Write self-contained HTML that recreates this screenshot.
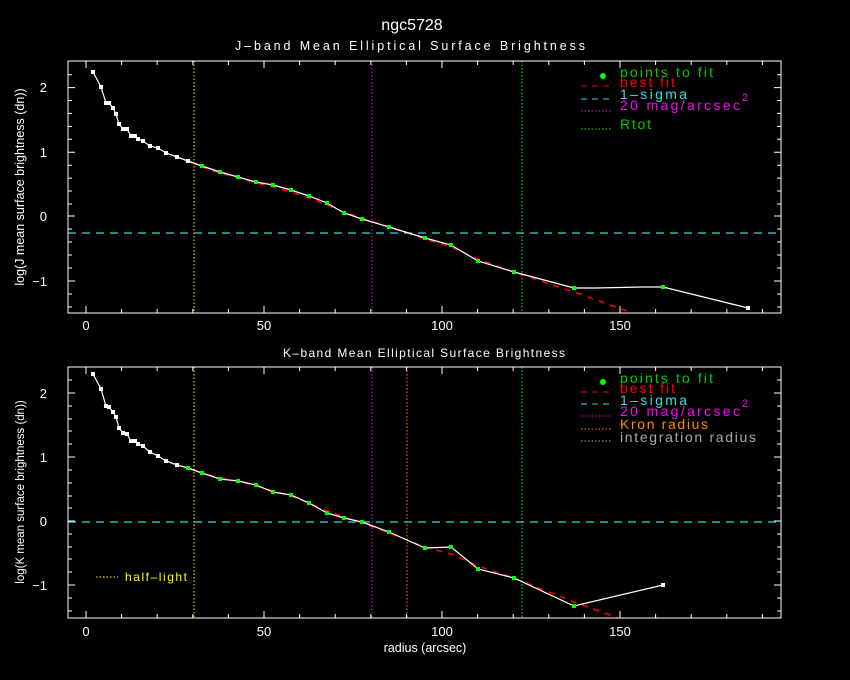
<!DOCTYPE html>
<html><head><meta charset="utf-8"><style>
html,body{margin:0;padding:0;background:#000;}
svg{display:block;font-family:"Liberation Sans",sans-serif;}
</style></head><body>
<svg width="850" height="680" viewBox="0 0 850 680" xmlns="http://www.w3.org/2000/svg">
<rect width="850" height="680" fill="#000"/>
<text x="412" y="30" fill="#fff" font-size="16" text-anchor="middle">ngc5728</text>
<text x="410" y="50" fill="#fff" font-size="12.5" text-anchor="middle" textLength="350">J–band Mean Elliptical Surface Brightness</text>
<text x="424" y="357" fill="#fff" font-size="12" text-anchor="middle" textLength="282">K–band Mean Elliptical Surface Brightness</text>
<text x="425" y="652" fill="#fff" font-size="12.5" text-anchor="middle">radius (arcsec)</text>
<text transform="translate(24,187) rotate(-90)" fill="#fff" font-size="12.5" text-anchor="middle">log(J mean surface brightness (dn))</text>
<text transform="translate(24,492) rotate(-90)" fill="#fff" font-size="11.5" text-anchor="middle">log(K mean surface brightness (dn))</text>

<g id="top">
<line x1="194" y1="61" x2="194" y2="313" stroke="#ff0" stroke-dasharray="1.5,2"/>
<line x1="372" y1="61" x2="372" y2="313" stroke="#f0f" stroke-dasharray="1.5,2"/>
<line x1="522" y1="61" x2="522" y2="313" stroke="#0f0" stroke-dasharray="1.5,2"/>
<line x1="68" y1="233" x2="781" y2="233" stroke="#3dd" stroke-dasharray="8,6" stroke-width="1.2"/>
<polyline fill="none" stroke="#f00" stroke-dasharray="6,6" stroke-width="1.5" points="190,162 202,167 220,173 238,178 256,183 273,187 291,192 309,198 327,205 344,212 362,218 389,227 425,239 451,247 478,259 514,272 574,292 627,311"/>
<polyline fill="none" stroke="#fff" stroke-width="1.2" points="93,72 101,87 106,103 109,103 113,108 116,114 119,124 123,129 127,129 131,136 135,136 138,139 143,141 150,146 158,148 166,153 177,157 188,161 202,166 220,172 238,177 256,182 273,185 291,190 309,196 327,203 344,213 362,219 389,227 425,238 451,245 478,261 514,272 574,288 596,288 641,287 663,287 748,308"/>
<g fill="#fff">
<rect x="91" y="70" width="4" height="4"/><rect x="99" y="85" width="4" height="4"/><rect x="104" y="101" width="4" height="4"/><rect x="107" y="101" width="4" height="4"/><rect x="111" y="106" width="4" height="4"/><rect x="114" y="112" width="4" height="4"/><rect x="117" y="122" width="4" height="4"/><rect x="121" y="127" width="4" height="4"/><rect x="125" y="127" width="4" height="4"/><rect x="129" y="134" width="4" height="4"/><rect x="133" y="134" width="4" height="4"/><rect x="136" y="137" width="4" height="4"/><rect x="141" y="139" width="4" height="4"/><rect x="148" y="144" width="4" height="4"/><rect x="156" y="146" width="4" height="4"/><rect x="164" y="151" width="4" height="4"/><rect x="175" y="155" width="4" height="4"/><rect x="186" y="159" width="4" height="4"/><rect x="746" y="306" width="4" height="4"/>
</g>
<g fill="#0f0">
<rect x="200" y="164" width="4" height="4"/><rect x="218" y="170" width="4" height="4"/><rect x="236" y="175" width="4" height="4"/><rect x="254" y="180" width="4" height="4"/><rect x="271" y="183" width="4" height="4"/><rect x="289" y="188" width="4" height="4"/><rect x="307" y="194" width="4" height="4"/><rect x="325" y="201" width="4" height="4"/><rect x="342" y="211" width="4" height="4"/><rect x="360" y="217" width="4" height="4"/><rect x="387" y="225" width="4" height="4"/><rect x="423" y="236" width="4" height="4"/><rect x="449" y="243" width="4" height="4"/><rect x="476" y="259" width="4" height="4"/><rect x="512" y="270" width="4" height="4"/><rect x="572" y="286" width="4" height="4"/><rect x="661" y="285" width="4" height="4"/>
</g>
<circle cx="603" cy="76" r="3" fill="#0f0"/>
<text x="620" y="77" fill="#0c0" font-size="14" textLength="93">points to fit</text>
<line x1="581" y1="86" x2="612" y2="86" stroke="#f00" stroke-dasharray="6,5"/>
<text x="620" y="87" fill="#f00" font-size="14" textLength="55">best fit</text>
<line x1="581" y1="99" x2="612" y2="99" stroke="#3dd" stroke-dasharray="6,5"/>
<text x="620" y="99" fill="#3dd" font-size="14" textLength="67">1–sigma</text>
<line x1="581" y1="111" x2="612" y2="111" stroke="#f0f" stroke-dasharray="1.5,2"/>
<text x="620" y="110" fill="#f0f" font-size="14" textLength="120">20 mag/arcsec</text>
<text x="742" y="101" fill="#f0f" font-size="11">2</text>
<line x1="581" y1="129" x2="612" y2="129" stroke="#0f0" stroke-dasharray="1.5,2"/>
<text x="620" y="129" fill="#0c0" font-size="14" textLength="31">Rtot</text>
</g>

<g id="bottom">
<line x1="194" y1="367" x2="194" y2="618" stroke="#ff0" stroke-dasharray="1.5,2"/>
<line x1="372" y1="367" x2="372" y2="618" stroke="#f0f" stroke-dasharray="1.5,2"/>
<line x1="407" y1="367" x2="407" y2="618" stroke="#f80" stroke-dasharray="1.5,2"/>
<line x1="522" y1="367" x2="522" y2="618" stroke="#0f0" stroke-dasharray="1.5,2"/>
<line x1="68" y1="522" x2="781" y2="522" stroke="#3dd" stroke-dasharray="8,6" stroke-width="1.2"/>
<polyline fill="none" stroke="#f00" stroke-dasharray="6,6" stroke-width="1.5" points="186,468 202,473 220,478 238,481 256,486 273,491 291,496 309,503 327,511 344,517 362,523 389,533 425,547 451,554 478,566 514,578 574,602 618,618"/>
<polyline fill="none" stroke="#fff" stroke-width="1.2" points="93,374 101,389 106,406 109,407 113,412 116,417 119,428 123,433 127,434 131,441 135,441 138,444 143,446 150,452 158,456 166,461 177,465 188,468 202,473 220,479 238,481 256,485 273,492 291,495 309,503 327,513 344,518 362,522 389,532 425,548 451,547 478,569 514,578 574,606 663,585"/>
<g fill="#fff">
<rect x="91" y="372" width="4" height="4"/><rect x="99" y="387" width="4" height="4"/><rect x="104" y="404" width="4" height="4"/><rect x="107" y="405" width="4" height="4"/><rect x="111" y="410" width="4" height="4"/><rect x="114" y="415" width="4" height="4"/><rect x="117" y="426" width="4" height="4"/><rect x="121" y="431" width="4" height="4"/><rect x="125" y="432" width="4" height="4"/><rect x="129" y="439" width="4" height="4"/><rect x="133" y="439" width="4" height="4"/><rect x="136" y="442" width="4" height="4"/><rect x="141" y="444" width="4" height="4"/><rect x="148" y="450" width="4" height="4"/><rect x="156" y="454" width="4" height="4"/><rect x="164" y="459" width="4" height="4"/><rect x="175" y="463" width="4" height="4"/><rect x="661" y="583" width="4" height="4"/>
</g>
<g fill="#0f0">
<rect x="186" y="466" width="4" height="4"/><rect x="200" y="471" width="4" height="4"/><rect x="218" y="477" width="4" height="4"/><rect x="236" y="479" width="4" height="4"/><rect x="254" y="483" width="4" height="4"/><rect x="271" y="490" width="4" height="4"/><rect x="289" y="493" width="4" height="4"/><rect x="307" y="501" width="4" height="4"/><rect x="325" y="511" width="4" height="4"/><rect x="342" y="516" width="4" height="4"/><rect x="360" y="520" width="4" height="4"/><rect x="387" y="530" width="4" height="4"/><rect x="423" y="546" width="4" height="4"/><rect x="449" y="545" width="4" height="4"/><rect x="476" y="567" width="4" height="4"/><rect x="512" y="576" width="4" height="4"/><rect x="572" y="604" width="4" height="4"/>
</g>
<circle cx="603" cy="382" r="3" fill="#0f0"/>
<text x="620" y="383" fill="#0c0" font-size="14" textLength="93">points to fit</text>
<line x1="581" y1="392" x2="612" y2="392" stroke="#f00" stroke-dasharray="6,5"/>
<text x="620" y="393" fill="#f00" font-size="14" textLength="55">best fit</text>
<line x1="581" y1="404" x2="612" y2="404" stroke="#3dd" stroke-dasharray="6,5"/>
<text x="620" y="405" fill="#3dd" font-size="14" textLength="67">1–sigma</text>
<line x1="581" y1="416" x2="612" y2="416" stroke="#f0f" stroke-dasharray="1.5,2"/>
<text x="620" y="416" fill="#f0f" font-size="14" textLength="120">20 mag/arcsec</text>
<text x="742" y="407" fill="#f0f" font-size="11">2</text>
<line x1="581" y1="429" x2="612" y2="429" stroke="#f80" stroke-dasharray="1.5,2"/>
<text x="620" y="429" fill="#f80" font-size="14" textLength="88">Kron radius</text>
<line x1="581" y1="441" x2="612" y2="441" stroke="#aaa" stroke-dasharray="1.5,2"/>
<text x="620" y="442" fill="#aaa" font-size="14" textLength="136">integration radius</text>
<line x1="96" y1="577" x2="118" y2="577" stroke="#ff0" stroke-dasharray="1.5,2"/>
<text x="125" y="581" fill="#ff0" font-size="12" textLength="62">half–light</text>
</g>

<g stroke="#fff" fill="none" stroke-width="1">
<rect x="68" y="61" width="713" height="252"/>
<rect x="68" y="367" width="713" height="251"/>
</g>
<g stroke="#fff" stroke-width="1">
<path d="M86,313v-7M264,313v-7M442,313v-7M620,313v-7M86,61v7M264,61v7M442,61v7M620,61v7
M121.6,313v-4M157.2,313v-4M192.8,313v-4M228.4,313v-4M299.6,313v-4M335.2,313v-4M370.8,313v-4M406.4,313v-4M477.6,313v-4M513.2,313v-4M548.8,313v-4M584.4,313v-4M655.6,313v-4M691.2,313v-4M726.8,313v-4M762.4,313v-4
M121.6,61v4M157.2,61v4M192.8,61v4M228.4,61v4M299.6,61v4M335.2,61v4M370.8,61v4M406.4,61v4M477.6,61v4M513.2,61v4M548.8,61v4M584.4,61v4M655.6,61v4M691.2,61v4M726.8,61v4M762.4,61v4
M86,618v-7M264,618v-7M442,618v-7M620,618v-7M86,367v7M264,367v7M442,367v7M620,367v7
M121.6,618v-4M157.2,618v-4M192.8,618v-4M228.4,618v-4M299.6,618v-4M335.2,618v-4M370.8,618v-4M406.4,618v-4M477.6,618v-4M513.2,618v-4M548.8,618v-4M584.4,618v-4M655.6,618v-4M691.2,618v-4M726.8,618v-4M762.4,618v-4
M121.6,367v4M157.2,367v4M192.8,367v4M228.4,367v4M299.6,367v4M335.2,367v4M370.8,367v4M406.4,367v4M477.6,367v4M513.2,367v4M548.8,367v4M584.4,367v4M655.6,367v4M691.2,367v4M726.8,367v4M762.4,367v4"/>
<path d="M68,87.6h7M68,152.3h7M68,216h7M68,281h7M781,87.6h-7M781,152.3h-7M781,216h-7M781,281h-7
M68,74.7h4M68,100.5h4M68,113.4h4M68,126.4h4M68,139.3h4M68,165.2h4M68,178.1h4M68,191h4M68,204h4M68,229h4M68,242h4M68,255h4M68,268h4M68,294h4M68,307h4
M781,74.7h-4M781,100.5h-4M781,113.4h-4M781,126.4h-4M781,139.3h-4M781,165.2h-4M781,178.1h-4M781,191h-4M781,204h-4M781,229h-4M781,242h-4M781,255h-4M781,268h-4M781,294h-4M781,307h-4"/>
<path d="M68,393h7M68,457h7M68,521h7M68,585h7M781,393h-7M781,457h-7M781,521h-7M781,585h-7
M68,380h4M68,406h4M68,419h4M68,431h4M68,444h4M68,470h4M68,483h4M68,496h4M68,508h4M68,534h4M68,547h4M68,559h4M68,572h4M68,598h4M68,611h4
M781,380h-4M781,406h-4M781,419h-4M781,431h-4M781,444h-4M781,470h-4M781,483h-4M781,496h-4M781,508h-4M781,534h-4M781,547h-4M781,559h-4M781,572h-4M781,598h-4M781,611h-4"/>
</g>
<g fill="#fff" font-size="13" text-anchor="middle">
<text x="86" y="330">0</text><text x="264" y="330">50</text><text x="442" y="330">100</text><text x="620" y="330">150</text>
<text x="86" y="636">0</text><text x="264" y="636">50</text><text x="442" y="636">100</text><text x="620" y="636">150</text>
</g>
<g fill="#fff" font-size="13" text-anchor="end">
<text x="47" y="92">2</text><text x="47" y="157">1</text><text x="47" y="221">0</text><text x="47" y="286">−1</text>
<text x="47" y="398">2</text><text x="47" y="462">1</text><text x="47" y="526">0</text><text x="47" y="590">−1</text>
</g>
</svg>
</body></html>
